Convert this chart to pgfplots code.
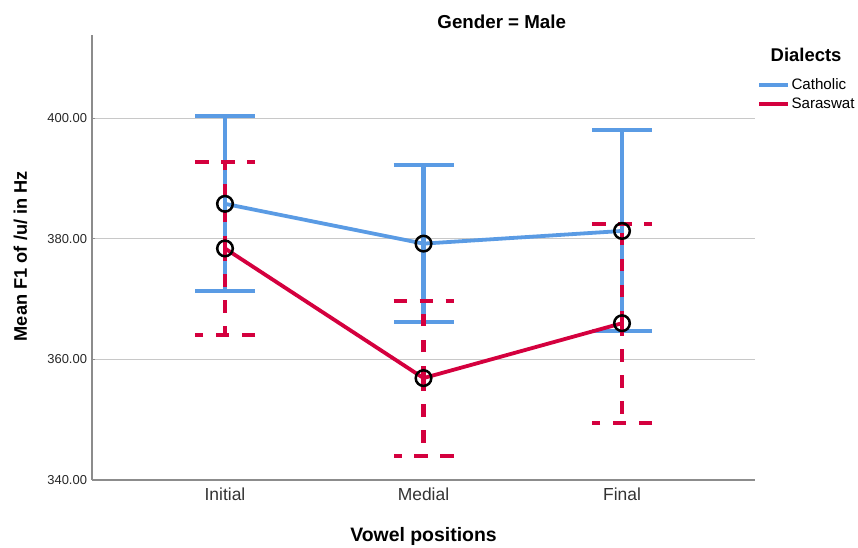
\documentclass[border=0pt]{standalone}
\usepackage{fontspec}
\setmainfont{Liberation Sans}
\usepackage{pgfplots}
\pgfplotsset{compat=1.18}
\definecolor{cath}{RGB}{90,155,228}
\definecolor{sara}{RGB}{212,0,62}
\definecolor{gridc}{RGB}{200,200,200}
\definecolor{axc}{RGB}{140,140,140}
\begin{document}
\begin{tikzpicture}[x=1bp,y=1bp]
\path[use as bounding box] (0,0) rectangle (858,548);
\begin{axis}[
  at={(92bp,68bp)}, anchor=south west,
  scale only axis, width=663bp, height=445bp,
  xmin=-0.67, xmax=2.67, ymin=340, ymax=413.8,
  axis x line*=bottom, axis y line*=left,
  axis line style={axc, line width=1.2bp},
  xtick={0,1,2}, xticklabels={Initial,Medial,Final},
  ytick={340,360,380,400},
  /pgf/number format/fixed, /pgf/number format/fixed zerofill, /pgf/number format/precision=2,
  /pgf/number format/assume math mode=true,
  yticklabel style={font=\fontsize{13}{15}\selectfont, text=black!85, xshift=-1.5bp},
  xticklabel style={font=\fontsize{17.5}{20}\selectfont, text=black!80, yshift=-4bp},
  xtick style={draw=none},
  ytick style={axc, line width=1bp},
  major tick length=3bp,
  ymajorgrids, grid style={gridc, line width=1.2bp},
  clip=false,
  legend style={draw=none, fill=none, at={(axis description cs:1.003,0.905)}, anchor=north west,
    font=\fontsize{15.2}{17}\selectfont, legend cell align=left, row sep=3.5bp, inner sep=0pt,
    nodes={inner sep=1.5bp}},
  legend image code/.code={\draw[#1, line width=3.8bp] (0bp,0bp)--(29bp,0bp);},
]
% Catholic
\addplot[cath, line width=3.8bp,
  error bars/.cd, y dir=both, y explicit,
  error bar style={cath, line width=4.2bp, solid},
  error mark options={rotate=90, cath, line width=4.2bp, mark size=30bp, solid}]
  table[x=x, y=y, y error plus=ep, y error minus=em] {
x y ep em
0 385.8 14.5 14.4
1 379.2 13.0 13.0
2 381.3 16.7 16.6
};
\addlegendentry{Catholic}
% Saraswat
\addplot[sara, line width=3.8bp,
  error bars/.cd, y dir=both, y explicit,
  error bar style={sara, line width=4.2bp, dash pattern=on 12.5bp off 13.5bp},
  error mark options={rotate=90, sara, line width=4.2bp, mark size=30bp, dash pattern=on 13.5bp off 12.5bp}]
  table[x=x, y=y, y error plus=ep, y error minus=em] {
x y ep em
0 378.4 14.4 14.4
1 356.9 12.8 12.9
2 366.0 16.5 16.6
};
\addlegendentry{Saraswat}
% means
\addplot[only marks, mark=o, mark size=7.8bp, black, line width=2.5bp, forget plot]
  table[x=x, y=y] {
x y
0 385.8
1 379.2
2 381.3
};
\addplot[only marks, mark=o, mark size=7.8bp, black, line width=2.5bp, forget plot]
  table[x=x, y=y] {
x y
0 378.4
1 356.9
2 366.0
};
\node[font=\bfseries\fontsize{18.8}{21}\selectfont] at (axis description cs:0.618,1.029) {Gender = Male};
\node[font=\bfseries\fontsize{19.5}{22}\selectfont] at (axis description cs:0.5,-0.128) {Vowel positions};
\node[font=\bfseries\fontsize{18.3}{21}\selectfont, rotate=90] at (axis description cs:-0.108,0.503) {Mean F1 of /u/ in Hz};
\node[font=\bfseries\fontsize{18.5}{20}\selectfont] at (axis description cs:1.077,0.955) {Dialects};
\end{axis}
\end{tikzpicture}
\end{document}
